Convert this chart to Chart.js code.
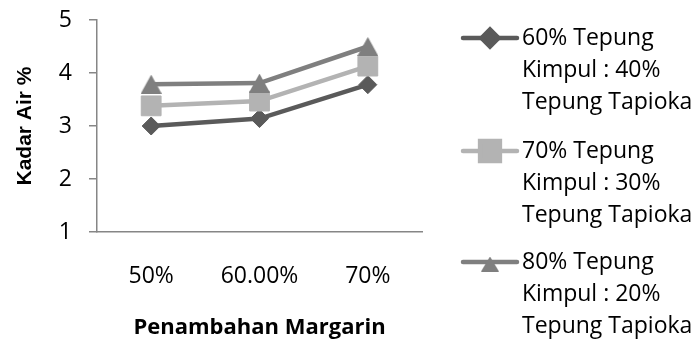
<!DOCTYPE html>
<html>
<head>
<meta charset="utf-8">
<script src="https://cdn.jsdelivr.net/npm/chart.js@4/dist/chart.umd.min.js"></script>
<style>
  html, body { margin: 0; padding: 0; background: #ffffff; }
  #wrap { width: 695px; height: 342px; }
</style>
</head>
<body>
<div id="wrap"><canvas id="chart" width="695" height="342"></canvas></div>
<script>
// Margarin addition levels (x categories)
const categories = ['50%', '60.00%', '70%'];

// Water content (Kadar Air %) per flour blend
const kimpul60 = [3.00, 3.14, 3.78];
const kimpul70 = [3.38, 3.47, 4.13];
const kimpul80 = [3.79, 3.81, 4.50];

// Series names, one line per entry
const name60 = ['60% Tepung', 'Kimpul : 40%', 'Tepung Tapioka'];
const name70 = ['70% Tepung', 'Kimpul : 30%', 'Tepung Tapioka'];
const name80 = ['80% Tepung', 'Kimpul : 20%', 'Tepung Tapioka'];

// Value axis ticks
const yTicks = [1, 2, 3, 4, 5];

const FONT = '"Open Sans", "Noto Sans", sans-serif';
const AXIS_COLOR = '#868686';
const C60 = '#5a5a5a', C70 = '#b3b3b3', C80 = '#7f7f7f';

// Triangle marker whose bounding box is centred on the point
function triangleMarker(w, h, color) {
  const c = document.createElement('canvas');
  c.width = w;
  c.height = h;
  const g = c.getContext('2d');
  g.fillStyle = color;
  g.beginPath();
  g.moveTo(w / 2, 0);
  g.lineTo(w, h);
  g.lineTo(0, h);
  g.closePath();
  g.fill();
  return c;
}
const triChart = triangleMarker(21, 19, C80);
const triLegend = triangleMarker(18, 15, C80);

// Legend on the right: line sample with marker, then multi-line name
const legendRows = [38, 151, 262];
const legendMarkers = [
  { style: 'rectRot', radius: 8.5 },
  { style: 'rect', radius: 14 },
  { style: triLegend, radius: 10, dy: 2 }
];
const sideLegend = {
  id: 'sideLegend',
  afterDraw(chart) {
    const ctx = chart.ctx;
    const lineX0 = 463, lineX1 = 517, textX = 522, lineGap = 32;
    ctx.save();
    chart.data.datasets.forEach((ds, i) => {
      const y = legendRows[i];
      const mk = legendMarkers[i];
      ctx.strokeStyle = ds.borderColor;
      ctx.lineWidth = ds.borderWidth;
      ctx.lineCap = 'round';
      ctx.beginPath();
      ctx.moveTo(lineX0, y);
      ctx.lineTo(lineX1, y);
      ctx.stroke();
      ctx.fillStyle = ds.borderColor;
      ctx.strokeStyle = ds.borderColor;
      Chart.helpers.drawPoint(ctx, {
        pointStyle: mk.style,
        radius: mk.radius,
        borderWidth: typeof mk.style === 'string' ? 1 : 0,
        rotation: 0
      }, (lineX0 + lineX1) / 2, y + (mk.dy || 0));
      ctx.fillStyle = '#000000';
      ctx.font = '23px ' + FONT;
      ctx.textAlign = 'left';
      ctx.textBaseline = 'middle';
      ds.label.forEach((line, k) => {
        ctx.fillText(line, textX, y + k * lineGap);
      });
    });
    ctx.restore();
  }
};

new Chart(document.getElementById('chart'), {
  type: 'line',
  data: {
    labels: categories,
    datasets: [
      {
        label: name60, data: kimpul60,
        borderColor: C60, backgroundColor: C60,
        borderWidth: 4.5, pointStyle: 'rectRot', pointRadius: 9,
        pointBorderWidth: 1, order: 2
      },
      {
        label: name70, data: kimpul70,
        borderColor: C70, backgroundColor: C70,
        borderWidth: 4.5, pointStyle: 'rect', pointRadius: 14,
        pointBorderWidth: 1, order: 1
      },
      {
        label: name80, data: kimpul80,
        borderColor: C80, backgroundColor: C80,
        borderWidth: 4.5, pointStyle: triChart, pointRadius: 11,
        pointBorderWidth: 0, order: 0
      }
    ]
  },
  options: {
    responsive: false,
    animation: false,
    devicePixelRatio: 1,
    layout: { padding: { top: 20, right: 273, bottom: 0, left: 0 } },
    plugins: {
      legend: { display: false },
      tooltip: { enabled: false }
    },
    scales: {
      x: {
        offset: true,
        grid: { display: false, drawTicks: false },
        border: { display: true, color: AXIS_COLOR, width: 1.5 },
        ticks: { color: '#000000', font: { family: FONT, size: 23 }, padding: 31 },
        title: {
          display: true, text: 'Penambahan Margarin', color: '#000000',
          font: { family: FONT, size: 22, weight: 'bold' },
          padding: { top: 0, bottom: 1 }
        },
        afterFit(scale) { scale.height = 110; }
      },
      y: {
        min: 1, max: 5,
        afterBuildTicks(scale) { scale.ticks = yTicks.map(v => ({ value: v })); },
        grid: { drawOnChartArea: false, drawTicks: true, tickLength: 8, color: AXIS_COLOR, lineWidth: 1.5 },
        border: { display: true, color: AXIS_COLOR, width: 1.5 },
        ticks: { color: '#000000', font: { family: FONT, size: 23 }, padding: 17 },
        title: {
          display: true, text: 'Kadar Air %', color: '#000000',
          font: { family: '"Liberation Sans", Arial, sans-serif', size: 21, weight: 'bold' },
          padding: { top: 13, bottom: 0 }
        },
        afterFit(scale) {
          scale.width = 97;
          // plot top/bottom come from the layout padding alone
          scale.paddingTop = 0;
          scale.paddingBottom = 0;
        }
      }
    }
  },
  plugins: [sideLegend]
});
</script>
</body>
</html>
